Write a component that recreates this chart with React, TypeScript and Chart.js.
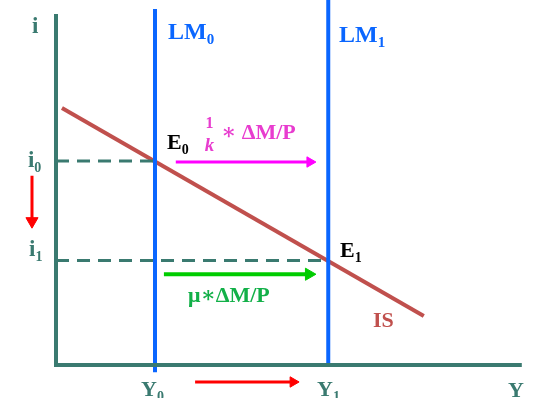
import React, { useEffect, useRef } from "react";
import { Chart, registerables } from "chart.js";

Chart.register(...registerables);

// Model values (output Y, interest rate i)
const Y0 = 2.0;
const Y1 = 5.5;
const i0 = 4.0;
const i1 = 2.05;
const X_AXIS_END = 9.41;
const Y_AXIS_TOP = 6.88;
const LM0_RANGE = [-0.14, 6.98];
const LM1_RANGE = [0, 7.2];
const IS_X = [0.12, 7.43];
const IS_I = [5.04, 0.96];

// Arrows: [x0, y0, x1, y1]
const MAGENTA_ARROW = [2.42, 3.98, 5.13, 3.98];
const GREEN_ARROW = [2.18, 1.78, 5.11, 1.78];
const RED_DOWN_ARROW = [-0.485, 3.71, -0.485, 2.82];
const RED_RIGHT_ARROW = [2.81, -0.333, 4.79, -0.333];

const X_MIN = -56 / 49.5;
const X_MAX = (536 - 56) / 49.5;
const Y_MAX = 365 / 51;
const Y_MIN = -33 / 51;

const TEAL = "#3a7a70";
const BLUE = "#0a66ff";
const IS_RED = "#c0504d";
const MAGENTA = "#ff00ff";
const MAGENTA_TEXT = "#e83ccf";
const GREEN = "#00cc00";
const GREEN_TEXT = "#12b048";
const RED = "#ff0000";
const FONT = '"Liberation Serif", "DejaVu Serif", serif';

// Labels: text, subscript, x, y (data units, left/baseline), color, size
const LABEL_TEXT = ["i", "i", "i", "LM", "LM", "E", "E", "μ∗ΔM/P", "IS", "Y", "Y", "Y", "∗ ΔM/P"];
const LABEL_SUB = ["", "0", "1", "0", "1", "0", "1", "", "", "0", "1", "", ""];
const LABEL_X = [-0.485, -0.566, -0.545, 2.263, 5.717, 2.242, 5.737, 2.667, 6.404, 1.717, 5.273, 9.13, 3.333];
const LABEL_Y = [6.51, 3.88, 2.14, 6.39, 6.33, 4.235, 2.118, 1.235, 0.745, -0.608, -0.608, -0.627, 4.43];
const LABEL_COLOR = [TEAL, TEAL, TEAL, BLUE, BLUE, "#000000", "#000000", GREEN_TEXT, IS_RED, TEAL, TEAL, TEAL, MAGENTA_TEXT];
const LABEL_SIZE = [23, 23, 23, 24, 24, 22, 22, 22, 22, 22, 22, 22, 22];

function arrowDataset(a: number[], color: string, width: number, r: number, rot: number) {
  return {
    data: [{ x: a[0], y: a[1] }, { x: a[2], y: a[3] }],
    borderColor: color,
    backgroundColor: color,
    borderWidth: width,
    pointRadius: [0, r],
    pointStyle: "triangle",
    rotation: rot,
    pointBackgroundColor: color,
    pointBorderColor: color,
    pointBorderWidth: 1,
    showLine: true,
  };
}

const labelPlugin = {
  id: "labels",
  afterDatasetsDraw(chart: any) {
    const ctx = chart.ctx;
    const xs = chart.scales.x;
    const ys = chart.scales.y;
    ctx.save();
    ctx.textBaseline = "alphabetic";
    for (let k = 0; k < LABEL_TEXT.length; k++) {
      const px = xs.getPixelForValue(LABEL_X[k]);
      const py = ys.getPixelForValue(LABEL_Y[k]);
      ctx.fillStyle = LABEL_COLOR[k];
      ctx.textAlign = "left";
      ctx.font = `bold ${LABEL_SIZE[k]}px ${FONT}`;
      ctx.fillText(LABEL_TEXT[k], px, py);
      if (LABEL_SUB[k]) {
        const w = ctx.measureText(LABEL_TEXT[k]).width;
        ctx.font = `bold ${Math.round(LABEL_SIZE[k] * 0.62)}px ${FONT}`;
        ctx.fillText(LABEL_SUB[k], px + w, py + 5);
      }
    }
    // fraction 1/k
    const fx = xs.getPixelForValue(3.1);
    ctx.fillStyle = MAGENTA_TEXT;
    ctx.textAlign = "center";
    ctx.font = `bold 16px ${FONT}`;
    ctx.fillText("1", fx, ys.getPixelForValue(4.647));
    ctx.font = `italic bold 19px ${FONT}`;
    ctx.fillText("k", fx, ys.getPixelForValue(4.196));
    ctx.restore();
  },
};

export default function App() {
  const ref = useRef<HTMLCanvasElement>(null);
  useEffect(() => {
    document.body.style.margin = "0";
    const canvas = ref.current!;
    const chart = new Chart(canvas, {
      type: "scatter",
      data: {
        datasets: [
          // dashed guides
          {
            data: [{ x: 0, y: i0 }, { x: Y0, y: i0 }],
            borderColor: TEAL, borderWidth: 3, borderDash: [13, 8], pointRadius: 0, showLine: true,
          },
          {
            data: [{ x: 0, y: i1 }, { x: Y1, y: i1 }],
            borderColor: TEAL, borderWidth: 3, borderDash: [13, 8], pointRadius: 0, showLine: true,
          },
          // axes
          {
            data: [{ x: 0, y: Y_AXIS_TOP }, { x: 0, y: 0 }, { x: X_AXIS_END, y: 0 }],
            borderColor: TEAL, borderWidth: 4, borderJoinStyle: "miter", pointRadius: 0, showLine: true,
          },
          // LM curves
          {
            data: [{ x: Y0, y: LM0_RANGE[0] }, { x: Y0, y: LM0_RANGE[1] }],
            borderColor: BLUE, borderWidth: 4, pointRadius: 0, showLine: true,
          },
          {
            data: [{ x: Y1, y: LM1_RANGE[0] }, { x: Y1, y: LM1_RANGE[1] }],
            borderColor: BLUE, borderWidth: 4, pointRadius: 0, showLine: true,
          },
          // IS curve
          {
            data: [{ x: IS_X[0], y: IS_I[0] }, { x: IS_X[1], y: IS_I[1] }],
            borderColor: IS_RED, borderWidth: 4, pointRadius: 0, showLine: true,
          },
          arrowDataset(MAGENTA_ARROW, MAGENTA, 3, 6, 90),
          arrowDataset(GREEN_ARROW, GREEN, 4, 7, 90),
          arrowDataset(RED_DOWN_ARROW, RED, 3, 7, 180),
          arrowDataset(RED_RIGHT_ARROW, RED, 3, 6, 90),
        ] as any,
      },
      options: {
        animation: false,
        responsive: false,
        devicePixelRatio: 1,
        layout: { padding: 0, autoPadding: false },
        plugins: { legend: { display: false }, tooltip: { enabled: false } },
        scales: {
          x: { type: "linear", min: X_MIN, max: X_MAX, display: false },
          y: { type: "linear", min: Y_MIN, max: Y_MAX, display: false },
        },
      },
      plugins: [labelPlugin],
    });
    const fonts: any = (document as any).fonts;
    if (fonts && fonts.load) {
      Promise.all([
        fonts.load(`bold 22px "Liberation Serif"`),
        fonts.load(`italic bold 19px "Liberation Serif"`),
      ]).then(() => chart.draw()).catch(() => {});
    }
    return () => chart.destroy();
  }, []);
  return (
    <div style={{ position: "relative", width: 536, height: 398, background: "#ffffff" }}>
      <canvas ref={ref} width={536} height={398} style={{ display: "block" }} />
    </div>
  );
}
